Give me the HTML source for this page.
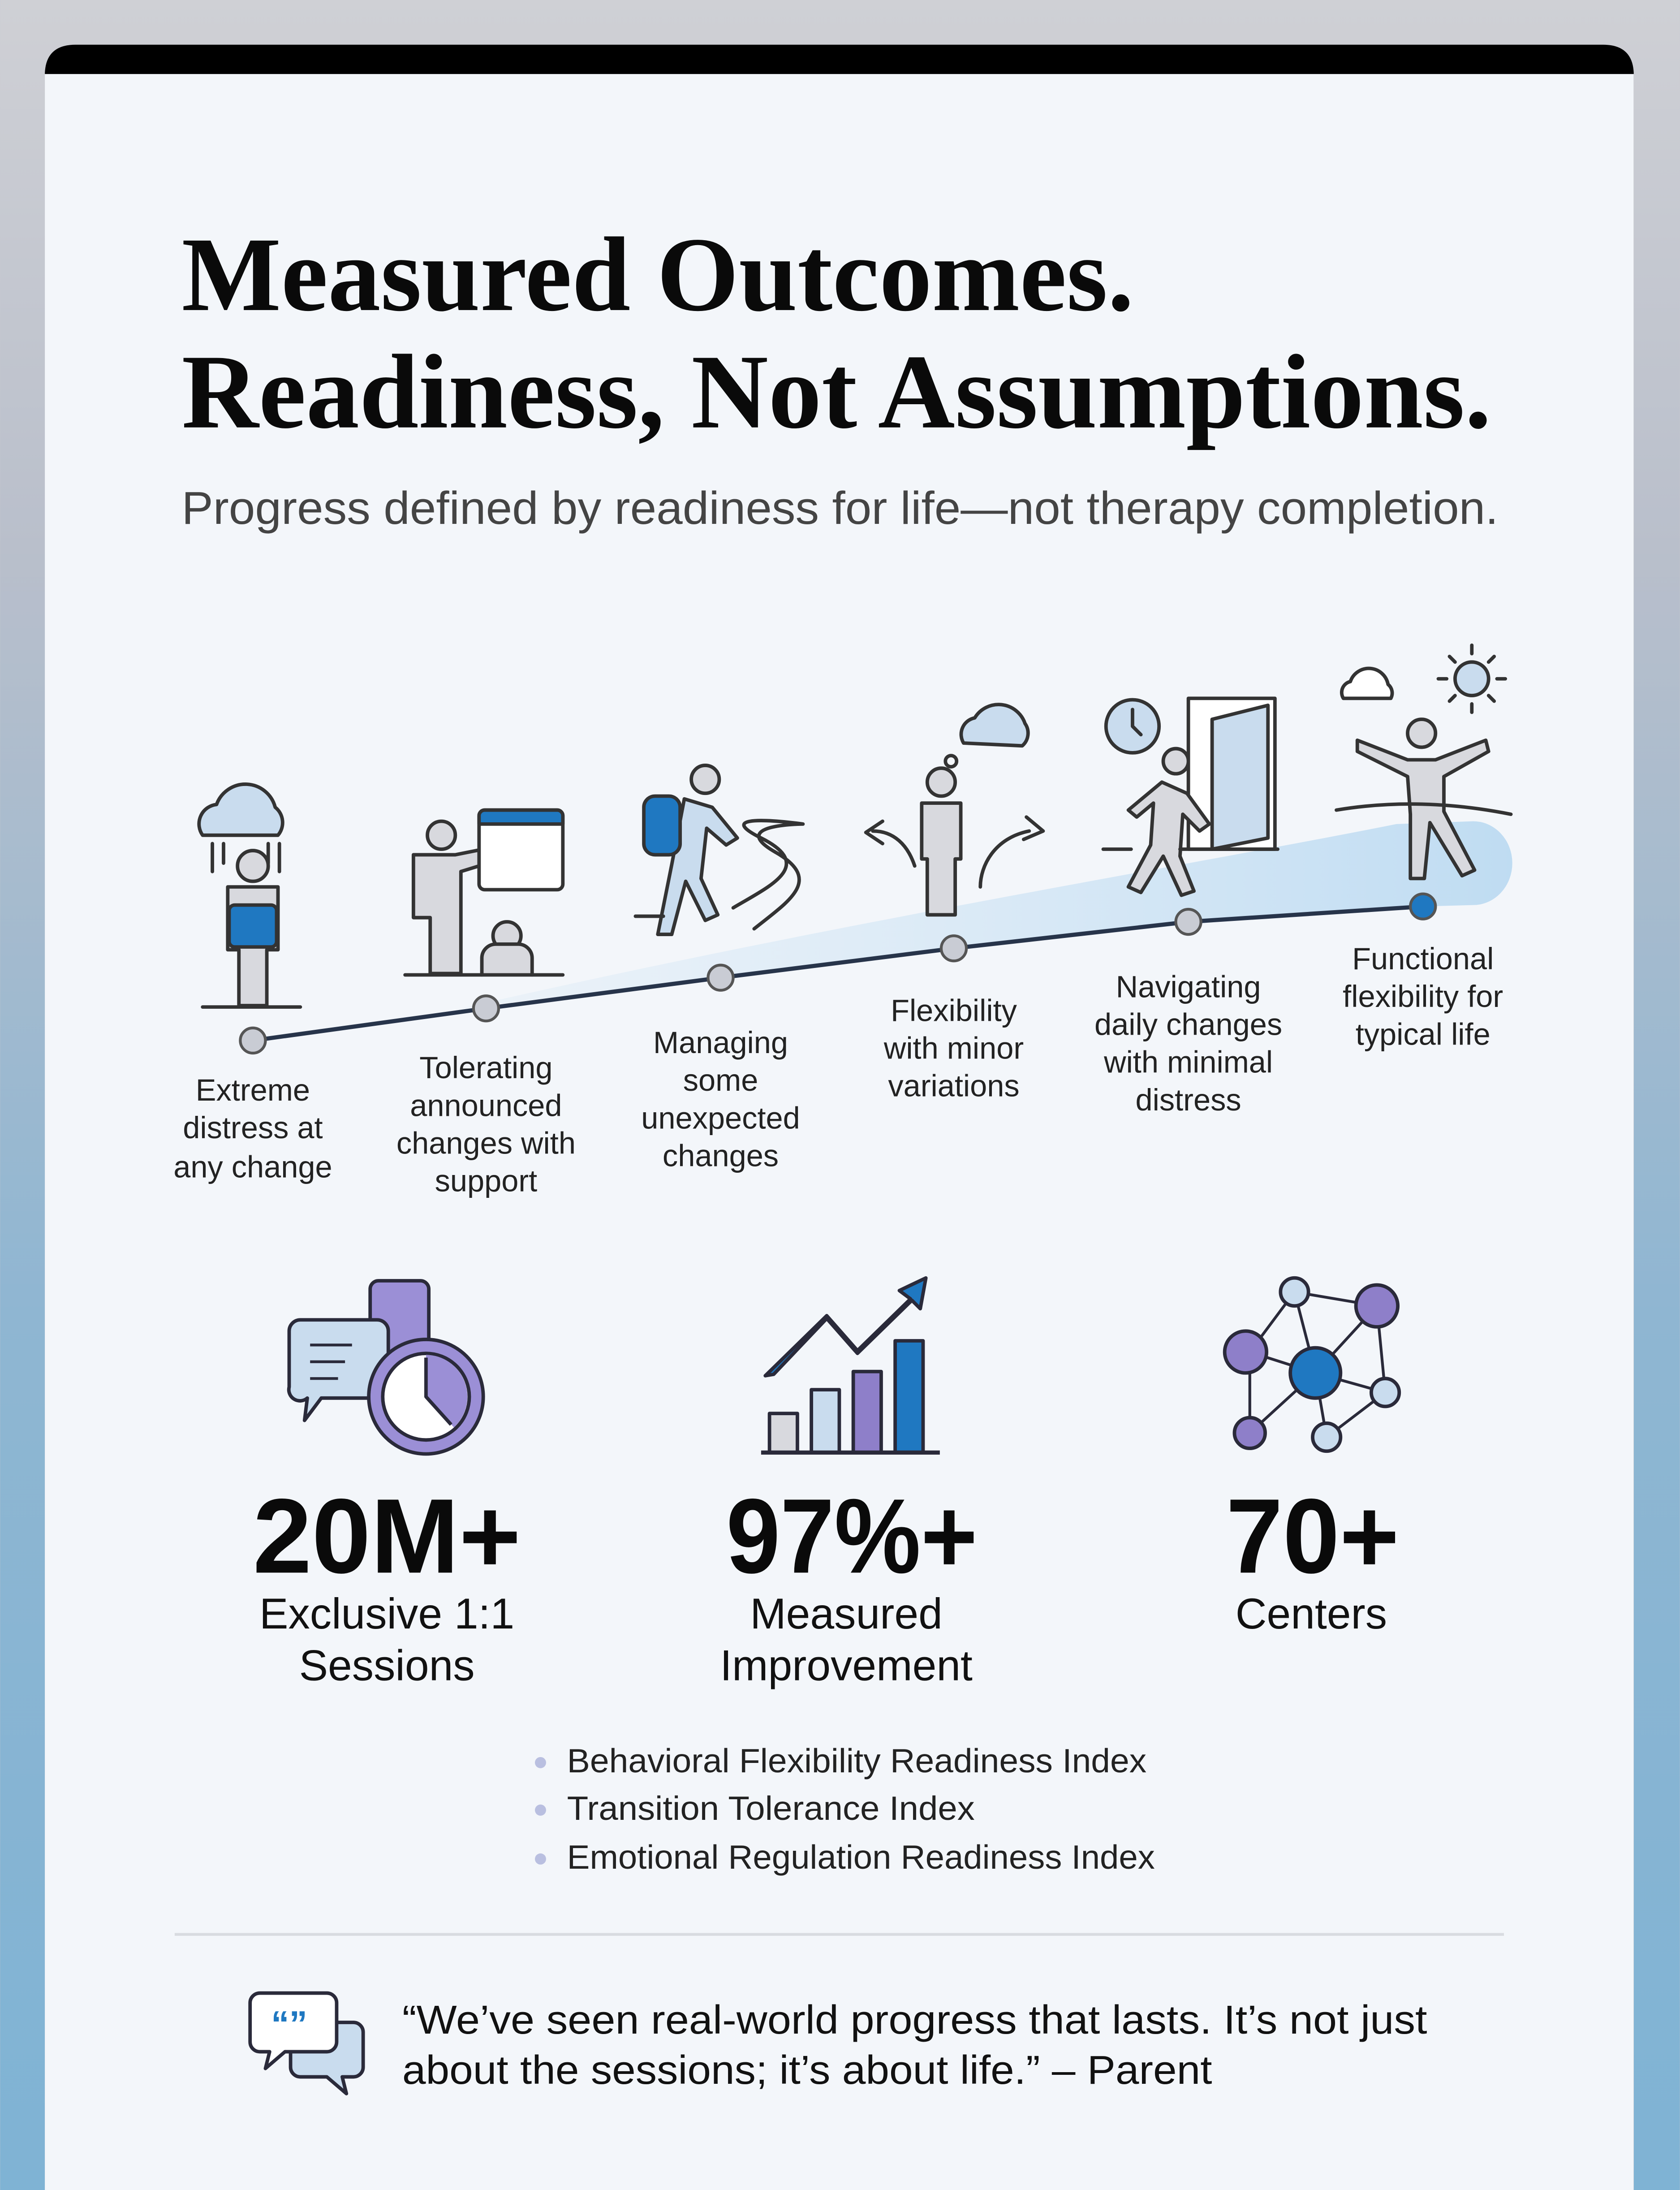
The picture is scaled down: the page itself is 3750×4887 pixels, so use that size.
<!DOCTYPE html>
<html><head><meta charset="utf-8"><style>
html,body{margin:0;padding:0;width:3750px;height:4887px;overflow:hidden;background:#c9cad0}
svg{display:block}
</style></head><body>
<svg width="3750" height="4887" viewBox="0 0 1203 1568" xmlns="http://www.w3.org/2000/svg" font-family="Liberation Sans, sans-serif">
<defs>
<linearGradient id="bg" x1="0" y1="0" x2="0" y2="1">
<stop offset="0" stop-color="#cfd0d5"/><stop offset="0.25" stop-color="#b9bfcb"/><stop offset="0.6" stop-color="#8fb6d2"/><stop offset="1" stop-color="#7fb3d4"/>
</linearGradient>
<linearGradient id="sw" x1="0" y1="0" x2="1" y2="0">
<stop offset="0" stop-color="#d9e9f6" stop-opacity="0.3"/><stop offset="1" stop-color="#bfdcf2"/>
</linearGradient>
</defs>
<rect width="1203" height="1568" fill="url(#bg)"/>
<path d="M32 54 Q32 32 54 32 H1148 Q1170 32 1170 54 V1568 H32Z" fill="#000"/>
<rect x="32" y="53" width="1138" height="1520" fill="#f3f6fa"/>

<g font-family="Liberation Serif, serif" font-weight="bold" fill="#0a0a0a" font-size="76">
<text x="130" y="222" textLength="682" lengthAdjust="spacingAndGlyphs">Measured Outcomes.</text>
<text x="130" y="306" textLength="938" lengthAdjust="spacingAndGlyphs">Readiness, Not Assumptions.</text>
</g>
<text x="130" y="375" font-size="33" fill="#444" textLength="943" lengthAdjust="spacingAndGlyphs">Progress defined by readiness for life—not therapy completion.</text>

<!-- swoosh -->
<path d="M330 722 C600 660 850 620 1000 590 L1055 588 A28 30 0 0 1 1055 648 L1019 649 C800 662 600 690 330 722Z" fill="url(#sw)"/>
<path d="M181 745 L348 722 L516 700 L683 679 L851 660 L1019 649" fill="none" stroke="#27344a" stroke-width="3"/>
<g stroke="#555" stroke-width="2" fill="#c9ccd4">
<circle cx="181" cy="745" r="9"/><circle cx="348" cy="722" r="9"/><circle cx="516" cy="700" r="9"/><circle cx="683" cy="679" r="9"/><circle cx="851" cy="660" r="9"/><circle cx="1019" cy="649" r="9" fill="#1f78c1"/>
</g>

<!-- icons timeline -->
<g stroke="#333" stroke-width="2.5" stroke-linejoin="round" stroke-linecap="round">
<path d="M145 598 a14 14 0 0 1 10-22 a22 22 0 0 1 42 2 a14 14 0 0 1 2 20Z" fill="#c9dcee"/>
<path d="M152 604v20M160 604v14M200 604v20M192 604v14" fill="none"/>
<circle cx="181" cy="620" r="11" fill="#d8d9de"/>
<path d="M163 635h36v45h-8v40h-20v-40h-8z" fill="#d8d9de"/>
<rect x="164" y="648" width="34" height="30" rx="4" fill="#1f78c1"/>
<path d="M145 721h70" fill="none"/>
<circle cx="316" cy="598" r="10" fill="#d8d9de"/>
<path d="M296 612h30l30-6v10l-26 8v73h-22v-40h-12z" fill="#d8d9de"/>
<rect x="343" y="580" width="60" height="57" rx="4" fill="#fff"/>
<path d="M343 590h60v-6a4 4 0 0 0-4-4h-52a4 4 0 0 0-4 4z" fill="#1f78c1"/>
<circle cx="363" cy="670" r="10" fill="#d8d9de"/>
<path d="M345 698v-12a10 10 0 0 1 10-10h16a10 10 0 0 1 10 10v12" fill="#d8d9de"/>
<path d="M290 698h113" fill="none"/>
<circle cx="505" cy="558" r="10" fill="#d8d9de"/>
<path d="M490 572l20 6 18 22-8 5-14-12-4 36 12 26-9 4-14-28-10 38h-10l10-50z" fill="#c9dcee"/>
<rect x="461" y="570" width="26" height="42" rx="8" fill="#1f78c1"/>
<path d="M525 650c25-15 60-30 20-50s30-10 30-10M540 665c25-20 50-35 15-55s20-20 20-20M455 656h20" fill="none"/>
<path d="M690 532 a12 12 0 0 1 8-18 a20 20 0 0 1 36 4 a12 12 0 0 1-2 16z" fill="#c9dcee"/>
<circle cx="681" cy="545" r="4" fill="none"/>
<circle cx="674" cy="560" r="10" fill="#d8d9de"/>
<path d="M660 575h28v40h-4v40h-20v-40h-4z" fill="#d8d9de"/>
<path d="M655 620c-5-15-15-25-30-25M702 635c0-15 10-35 35-40" fill="none"/>
<path d="M632 588l-12 8 12 8M735 585l12 10-14 6" fill="none"/>
<circle cx="811" cy="520" r="19" fill="#c9dcee"/><path d="M811 508v12l6 6" fill="none"/>
<rect x="851" y="500" width="62" height="108" fill="#fff"/>
<path d="M868 515l40-10v95l-40 8z" fill="#c9dcee"/>
<circle cx="842" cy="545" r="9" fill="#d8d9de"/>
<path d="M832 560l18 8 16 22-7 5-12-12-2 30 10 25-9 3-13-28-16 26-9-4 16-30 2-30-12 10-6-5z" fill="#d8d9de"/>
<path d="M790 608h20M845 608h70" fill="none"/>
<path d="M962 500 a8 8 0 0 1 5-12 a14 14 0 0 1 27 2 a8 8 0 0 1 2 10z" fill="#fff"/>
<circle cx="1054" cy="486" r="12" fill="#c9dcee"/>
<path d="M1054 462v6M1054 504v6M1030 486h6M1072 486h6M1038 470l4 4M1066 498l4 4M1070 470l-4 4M1038 502l4-4" fill="none"/>
<circle cx="1018" cy="525" r="10" fill="#d8d9de"/>
<path d="M972 530l36 14h20l36-14 2 8-32 18v25l22 42-9 4-23-38-4 40h-10v-46l-2-27-36-18z" fill="#d8d9de"/>
<path d="M957 580q60-10 125 3" fill="none"/>
</g>

<g font-size="22" fill="#222" text-anchor="middle">
<text x="181" y="788">Extreme</text><text x="181" y="815">distress at</text><text x="181" y="843">any change</text>
<text x="348" y="772">Tolerating</text><text x="348" y="799">announced</text><text x="348" y="826">changes with</text><text x="348" y="853">support</text>
<text x="516" y="754">Managing</text><text x="516" y="781">some</text><text x="516" y="808">unexpected</text><text x="516" y="835">changes</text>
<text x="683" y="731">Flexibility</text><text x="683" y="758">with minor</text><text x="683" y="785">variations</text>
<text x="851" y="714">Navigating</text><text x="851" y="741">daily changes</text><text x="851" y="768">with minimal</text><text x="851" y="795">distress</text>
<text x="1019" y="694">Functional</text><text x="1019" y="721">flexibility for</text><text x="1019" y="748">typical life</text>
</g>

<g stroke="#2a2a3a" stroke-width="2.5" stroke-linejoin="round">
<rect x="265" y="917" width="42" height="60" rx="6" fill="#9b8fd6"/>
<path d="M215 945h55a8 8 0 0 1 8 8v40a8 8 0 0 1-8 8h-40l-12 16 2-16a8 8 0 0 1-13-8v-40a8 8 0 0 1 8-8z" fill="#c9dcee"/>
<path d="M222 963h30M222 975h25M222 987h20" stroke-width="2"/>
<circle cx="305" cy="1000" r="41" fill="#9b8fd6"/>
<circle cx="305" cy="1000" r="31" fill="#fff"/>
<path d="M305 1000v-30a30 30 0 0 1 20 52z" fill="#9b8fd6" stroke="none"/>
<path d="M305 972v28l18 20" fill="none"/>
<rect x="551" y="1012" width="20" height="28" fill="#d8d9de"/>
<rect x="581" y="995" width="20" height="45" fill="#c9dcee"/>
<rect x="611" y="982" width="20" height="58" fill="#8e7fc9"/>
<rect x="641" y="960" width="20" height="80" fill="#1f78c1"/>
<path d="M545 1040h128" fill="none" stroke-width="3"/>
<path d="M548 985l44-43 22 25 38-37-8-6 19-9-4 22-6-6-39 38-22-25-38 40z" fill="#1f78c1"/>
<path d="M927 925L986 935M927 925L895 968M927 925L942 983M986 935L942 983M986 935L992 997M895 968L942 983M895 968L895 1026M942 983L992 997M942 983L950 1029M895 1026L942 983M992 997L950 1029" fill="none" stroke-width="2"/>
<circle cx="927" cy="925" r="10" fill="#c9dcee"/><circle cx="986" cy="935" r="15" fill="#8e7fc9"/>
<circle cx="892" cy="968" r="15" fill="#8e7fc9"/><circle cx="942" cy="983" r="18" fill="#1f78c1"/>
<circle cx="992" cy="997" r="10" fill="#c9dcee"/><circle cx="895" cy="1026" r="11" fill="#8e7fc9"/>
<circle cx="950" cy="1029" r="10" fill="#c9dcee"/>
</g>

<g font-weight="bold" font-size="76" fill="#0a0a0a" text-anchor="middle">
<text x="277" y="1126" textLength="192" lengthAdjust="spacingAndGlyphs">20M+</text>
<text x="610" y="1126" textLength="180" lengthAdjust="spacingAndGlyphs">97%+</text>
<text x="940" y="1126" textLength="124" lengthAdjust="spacingAndGlyphs">70+</text>
</g>
<g font-size="31" fill="#111" text-anchor="middle">
<text x="277" y="1166">Exclusive 1:1</text><text x="277" y="1203">Sessions</text>
<text x="606" y="1166">Measured</text><text x="606" y="1203">Improvement</text>
<text x="939" y="1166">Centers</text>
</g>

<g fill="#b9bfe0"><circle cx="387" cy="1262" r="4"/><circle cx="387" cy="1296" r="4"/><circle cx="387" cy="1331" r="4"/></g>
<g font-size="24" fill="#222">
<text x="406" y="1269" textLength="415" lengthAdjust="spacingAndGlyphs">Behavioral Flexibility Readiness Index</text>
<text x="406" y="1303" textLength="292" lengthAdjust="spacingAndGlyphs">Transition Tolerance Index</text>
<text x="406" y="1338" textLength="421" lengthAdjust="spacingAndGlyphs">Emotional Regulation Readiness Index</text>
</g>
<path d="M125 1385H1077" stroke="#d8dbe0" stroke-width="2"/>

<g stroke="#2a2a3a" stroke-width="2.5" stroke-linejoin="round">
<path d="M215 1448h38a7 7 0 0 1 7 7v25a7 7 0 0 1-7 7h-8l3 12-14-12h-19a7 7 0 0 1-7-7v-25a7 7 0 0 1 7-7z" fill="#c9dcee"/>
<path d="M186 1427h48a7 7 0 0 1 7 7v28a7 7 0 0 1-7 7h-30l-14 12 3-12h-7a7 7 0 0 1-7-7v-28a7 7 0 0 1 7-7z" fill="#fff"/>
</g>
<text x="194" y="1458" font-size="26" font-weight="bold" fill="#1f78c1">“”</text>
<g font-size="29" fill="#111">
<text x="288" y="1456" textLength="734" lengthAdjust="spacingAndGlyphs">“We’ve seen real-world progress that lasts. It’s not just</text>
<text x="288" y="1492" textLength="580" lengthAdjust="spacingAndGlyphs">about the sessions; it’s about life.” – Parent</text>
</g>
</svg>
</body></html>
